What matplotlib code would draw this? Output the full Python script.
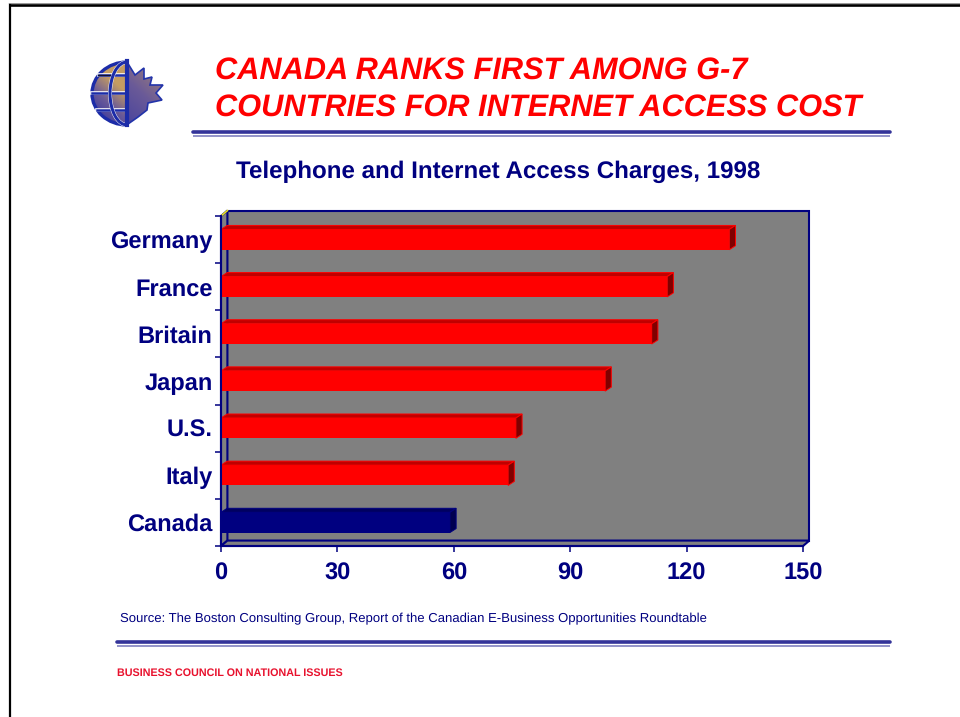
import numpy as np
import matplotlib
matplotlib.use('Agg')
import matplotlib.pyplot as plt
from matplotlib.patches import Polygon, PathPatch
from matplotlib.path import Path
from matplotlib.transforms import Affine2D
from matplotlib.colors import LinearSegmentedColormap

countries = ['Germany', 'France', 'Britain', 'Japan', 'U.S.', 'Italy', 'Canada']
charges = [131, 115, 111, 99, 76, 74, 59]
xticks = [0, 30, 60, 90, 120, 150]
title_lines = ['CANADA RANKS FIRST AMONG G-7', 'COUNTRIES FOR INTERNET ACCESS COST']
subtitle = 'Telephone and Internet Access Charges, 1998'
source = 'Source: The Boston Consulting Group, Report of the Canadian E-Business Opportunities Roundtable'
footer = 'BUSINESS COUNCIL ON NATIONAL ISSUES'

NAVY = '#000080'
RULE = '#333399'
plt.rcParams['font.family'] = ['Liberation Sans', 'DejaVu Sans']
plt.rcParams['text.hinting'] = 'none'

fig = plt.figure(figsize=(9.6, 7.17), dpi=100)

# page layer, in pixels from the top left
page = fig.add_axes([0, 0, 1, 1])
page.axis('off')

# slide border
page.plot([10, 10], [3, 717], color='black', lw=1.6, solid_capstyle='butt')
page.plot([9, 960], [4.8, 4.8], color='black', lw=1.9, solid_capstyle='butt')
page.plot([9, 960], [3, 3], color='#999999', lw=0.7)

# titles
page.text(215, 71, title_lines[0], color='red', fontsize=22.15, fontweight='bold', fontstyle='italic', va='center')
page.text(215, 108, title_lines[1], color='red', fontsize=22.15, fontweight='bold', fontstyle='italic', va='center')
page.text(498.5, 172, subtitle, color=NAVY, fontsize=17.4, fontweight='bold', ha='center', va='center')
page.text(120, 619, source, color=NAVY, fontsize=9.47, va='center')
page.text(117, 673.5, footer, color='#e8112d', fontsize=7.78, fontweight='bold', va='center')

# double rules under the title and above the footer
for x0, y0 in [(193, 132), (117, 642)]:
    page.plot([x0, 890], [y0, y0], color=RULE, lw=2.6, solid_capstyle='round')
    page.plot([x0, 890], [y0 + 3.8, y0 + 3.8], color='#8080c0', lw=1.2, solid_capstyle='butt')

# logo: half globe and half maple leaf with a diagonal fill
logo_cmap = LinearSegmentedColormap.from_list('logo', ['#3636a0', '#6a5a98', '#c49c62'])
grad = np.add.outer(np.linspace(1, 0, 80), np.linspace(0, 1, 80)) / 2
leaf = Polygon([(127, 62), (135, 75), (144, 68), (144, 79), (152, 77), (150, 85), (163, 85),
                (156, 93), (162, 100), (148, 103), (147, 110), (138, 117), (128, 124)],
               closed=True, fc='none', ec='#2233aa', lw=1.2, zorder=4)
globe_path = Path.arc(90, 270).transformed(Affine2D().scale(35, 31.5).translate(127, 93.5))
globe = PathPatch(globe_path, fc='none', ec='#1c2ca8', lw=2.4, zorder=4)
page.add_patch(leaf)
page.add_patch(globe)
for shape, lo, hi in [(leaf, 0.05, 1.15), (globe, 0.1, 0.5)]:
    im = page.imshow(grad, cmap=logo_cmap, extent=(90, 165, 127, 60), aspect='auto', zorder=3, vmin=lo, vmax=hi)
    im.set_clip_path(shape)
for y_line in [75, 93, 110]:
    half = 35 * np.sqrt(1 - ((y_line - 93.5) / 31.5) ** 2)
    page.plot([127 - half, 127], [y_line, y_line], color='white', lw=2.6, zorder=4)
    page.plot([127 - half, 127], [y_line, y_line], color='#1c2ca8', lw=1.8, zorder=4)
meridian = Path.arc(90, 270).transformed(Affine2D().scale(17, 31.5).translate(127, 93.5))
page.add_patch(PathPatch(meridian, fc='none', ec='white', lw=2.8, zorder=4))
page.add_patch(PathPatch(meridian, fc='none', ec='#1c2ca8', lw=2.2, zorder=4))
page.plot([127, 127], [61, 125], color='#1c2ca8', lw=3, zorder=5)
page.plot([98, 110], [74.5, 74.5], color='#101030', lw=1, zorder=5)
page.set_xlim(0, 960)
page.set_ylim(717, 0)

# chart: the axes box is the front edge of the 3D frame
ax = fig.add_axes([221 / 960, (717 - 546) / 717, 582 / 960, 330 / 717])
ax.patch.set_visible(False)
ax.set_xlim(0, 150)
ax.set_ylim(len(countries) - 0.5, -0.5)
ypos = np.arange(len(countries))

# frame depth and bar depth in axis units
wall_dx, wall_dy = 1.65, 0.115
bar_dx, bar_dy = 1.6, 0.085
bar_h = 0.43

x0, x1 = 0, 150
y_top, y_bot = -0.5, len(countries) - 0.5
wall = dict(clip_on=False, ec=NAVY, fc='#808080', lw=1.5, zorder=1, joinstyle='miter')
ax.add_patch(Polygon([(x0 + wall_dx, y_top - wall_dy), (x1 + wall_dx, y_top - wall_dy),
                      (x1 + wall_dx, y_bot - wall_dy), (x0 + wall_dx, y_bot - wall_dy)], **wall))
ax.add_patch(Polygon([(x0, y_top), (x0 + wall_dx, y_top - wall_dy),
                      (x0 + wall_dx, y_bot - wall_dy), (x0, y_bot)], **wall))
ax.add_patch(Polygon([(x0, y_bot), (x0 + wall_dx, y_bot - wall_dy),
                      (x1 + wall_dx, y_bot - wall_dy), (x1, y_bot)], **wall))
ax.plot([x0, x0 + wall_dx], [y_top, y_top - wall_dy], color='#e8e020', lw=1.2, clip_on=False, zorder=2)

# front faces, then the top and end of each bar
front = ['#000080' if c == 'Canada' else '#ff0000' for c in countries]
top = ['#000060' if c == 'Canada' else '#c00000' for c in countries]
side = ['#000050' if c == 'Canada' else '#800000' for c in countries]
ax.barh(ypos, charges, height=bar_h, color=front, zorder=3)
for y, v, ft, tp, sd in zip(ypos, charges, front, top, side):
    upper = y - bar_h / 2
    lower = y + bar_h / 2
    ax.add_patch(Polygon([(0, upper), (bar_dx, upper - bar_dy), (v + bar_dx, upper - bar_dy), (v, upper)],
                         fc=tp, ec=ft, lw=0.7, zorder=3, clip_on=False))
    ax.add_patch(Polygon([(v, upper), (v + bar_dx, upper - bar_dy), (v + bar_dx, lower - bar_dy), (v, lower)],
                         fc=sd, ec=ft, lw=0.7, zorder=3, clip_on=False))

for s in ['top', 'right']:
    ax.spines[s].set_visible(False)
for s in ['left', 'bottom']:
    ax.spines[s].set_color(NAVY)
    ax.spines[s].set_linewidth(1.5)
    ax.spines[s].set_zorder(4)

ax.set_xticks(xticks)
ax.set_xticklabels([str(t) for t in xticks])
ax.tick_params(axis='x', length=4, width=1.1, color=NAVY, labelcolor=NAVY, labelsize=17, pad=7.5)
for lab in ax.get_xticklabels():
    lab.set_fontweight('bold')

# tick marks between the categories, names at the band centres
ax.set_yticks(np.arange(len(countries) + 1) - 0.5)
ax.set_yticklabels([])
ax.tick_params(axis='y', which='major', length=4, width=1.1, color=NAVY)
ax.set_yticks(ypos, minor=True)
ax.set_yticklabels(countries, minor=True)
ax.tick_params(axis='y', which='minor', length=0, pad=6, labelcolor=NAVY, labelsize=17)
for lab in ax.get_yticklabels(minor=True):
    lab.set_fontweight('bold')

fig.savefig('out.png', dpi=100)
